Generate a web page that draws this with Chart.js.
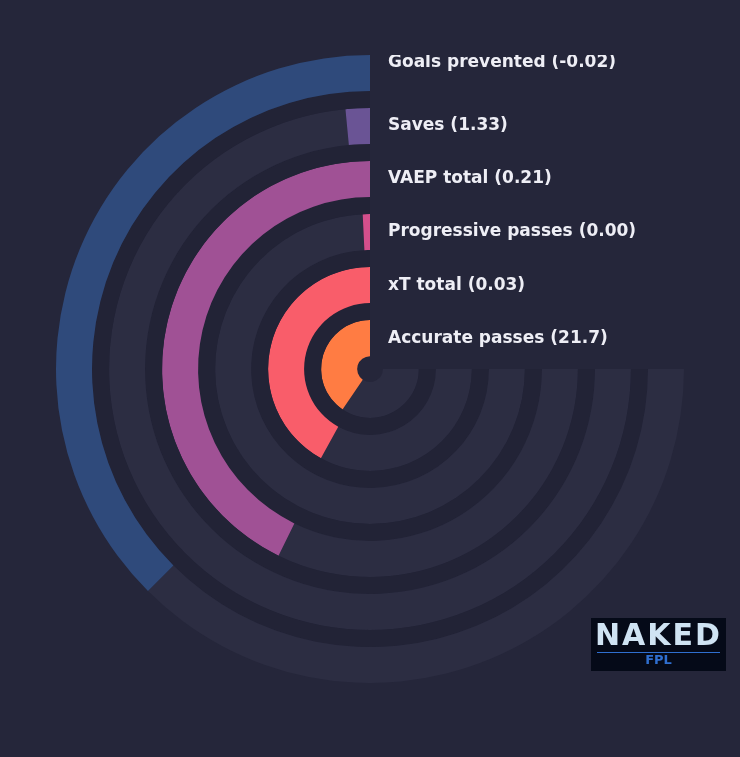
<!DOCTYPE html>
<html>
<head>
<meta charset="utf-8">
<script src="https://cdn.jsdelivr.net/npm/chart.js@4"></script>
<style>
  body { margin: 0; background: #25263a; width: 740px; height: 757px; overflow: hidden; position: relative; font-family: "DejaVu Sans", sans-serif; }
  #wrap { position: absolute; left: 56px; top: 55px; width: 628px; height: 628px; }
  .logo { position: absolute; left: 591px; top: 618px; width: 135px; height: 53px; background: #050a18; text-align: center; }
  .logo .n { color: #cfe3f3; font-weight: bold; font-size: 30px; letter-spacing: 2px; line-height: 34px; }
  .logo .f { color: #2f6fd0; font-weight: bold; font-size: 13px; line-height: 14px; border-top: 1px solid #2f6fd0; margin: 0 6px; }
</style>
</head>
<body>
<div id="wrap"><canvas id="c" width="628" height="628"></canvas></div>
<div class="logo"><div class="n">NAKED</div><div class="f">FPL</div></div>
<script>
// outer ring first
const metrics = ["Goals prevented", "Saves", "VAEP total", "Progressive passes", "xT total", "Accurate passes"];
const values = ["-0.02", "1.33", "0.21", "0.00", "0.03", "21.7"];
const fill = [0.50, 0.02, 0.57, 0.01, 0.56, 0.54];
const colors = ["#2f4a7b", "#6a5495", "#a05195", "#d44f8c", "#f95d6a", "#ff7c43"];

const datasets = [];
metrics.forEach((m, i) => {
  datasets.push({
    data: [1 - fill[i], fill[i]],
    backgroundColor: ["#2c2d42", colors[i]],
    borderWidth: 0,
    weight: 36,
    label: m
  });
  if (i < metrics.length - 1) {
    datasets.push({ data: [1], backgroundColor: ["#222336"], borderWidth: 0, weight: 17, label: "" });
  }
});

const labelPlugin = {
  id: "labels",
  afterDraw(chart) {
    const ctx = chart.ctx;
    ctx.save();
    ctx.font = "bold 17px 'DejaVu Sans'";
    ctx.fillStyle = "#eeeef5";
    ctx.textBaseline = "middle";
    let k = 0;
    chart.data.datasets.forEach((ds, i) => {
      if (!ds.label) return;
      const arc = chart.getDatasetMeta(i).data[0];
      const y = arc.y - (arc.outerRadius + arc.innerRadius) / 2 - (k === 0 ? 10 : 0);
      ctx.fillText(`${metrics[k]} (${values[k]})`, arc.x + 18, y);
      k++;
    });
    ctx.restore();
  }
};

new Chart(document.getElementById("c"), {
  type: "doughnut",
  data: { labels: ["rest", "value"], datasets },
  options: {
    responsive: false,
    animation: false,
    rotation: 90,
    circumference: 270,
    cutout: "4.1%",
    layout: { padding: 0 },
    plugins: { legend: { display: false }, tooltip: { enabled: false } }
  },
  plugins: [labelPlugin]
});
</script>
</body>
</html>
